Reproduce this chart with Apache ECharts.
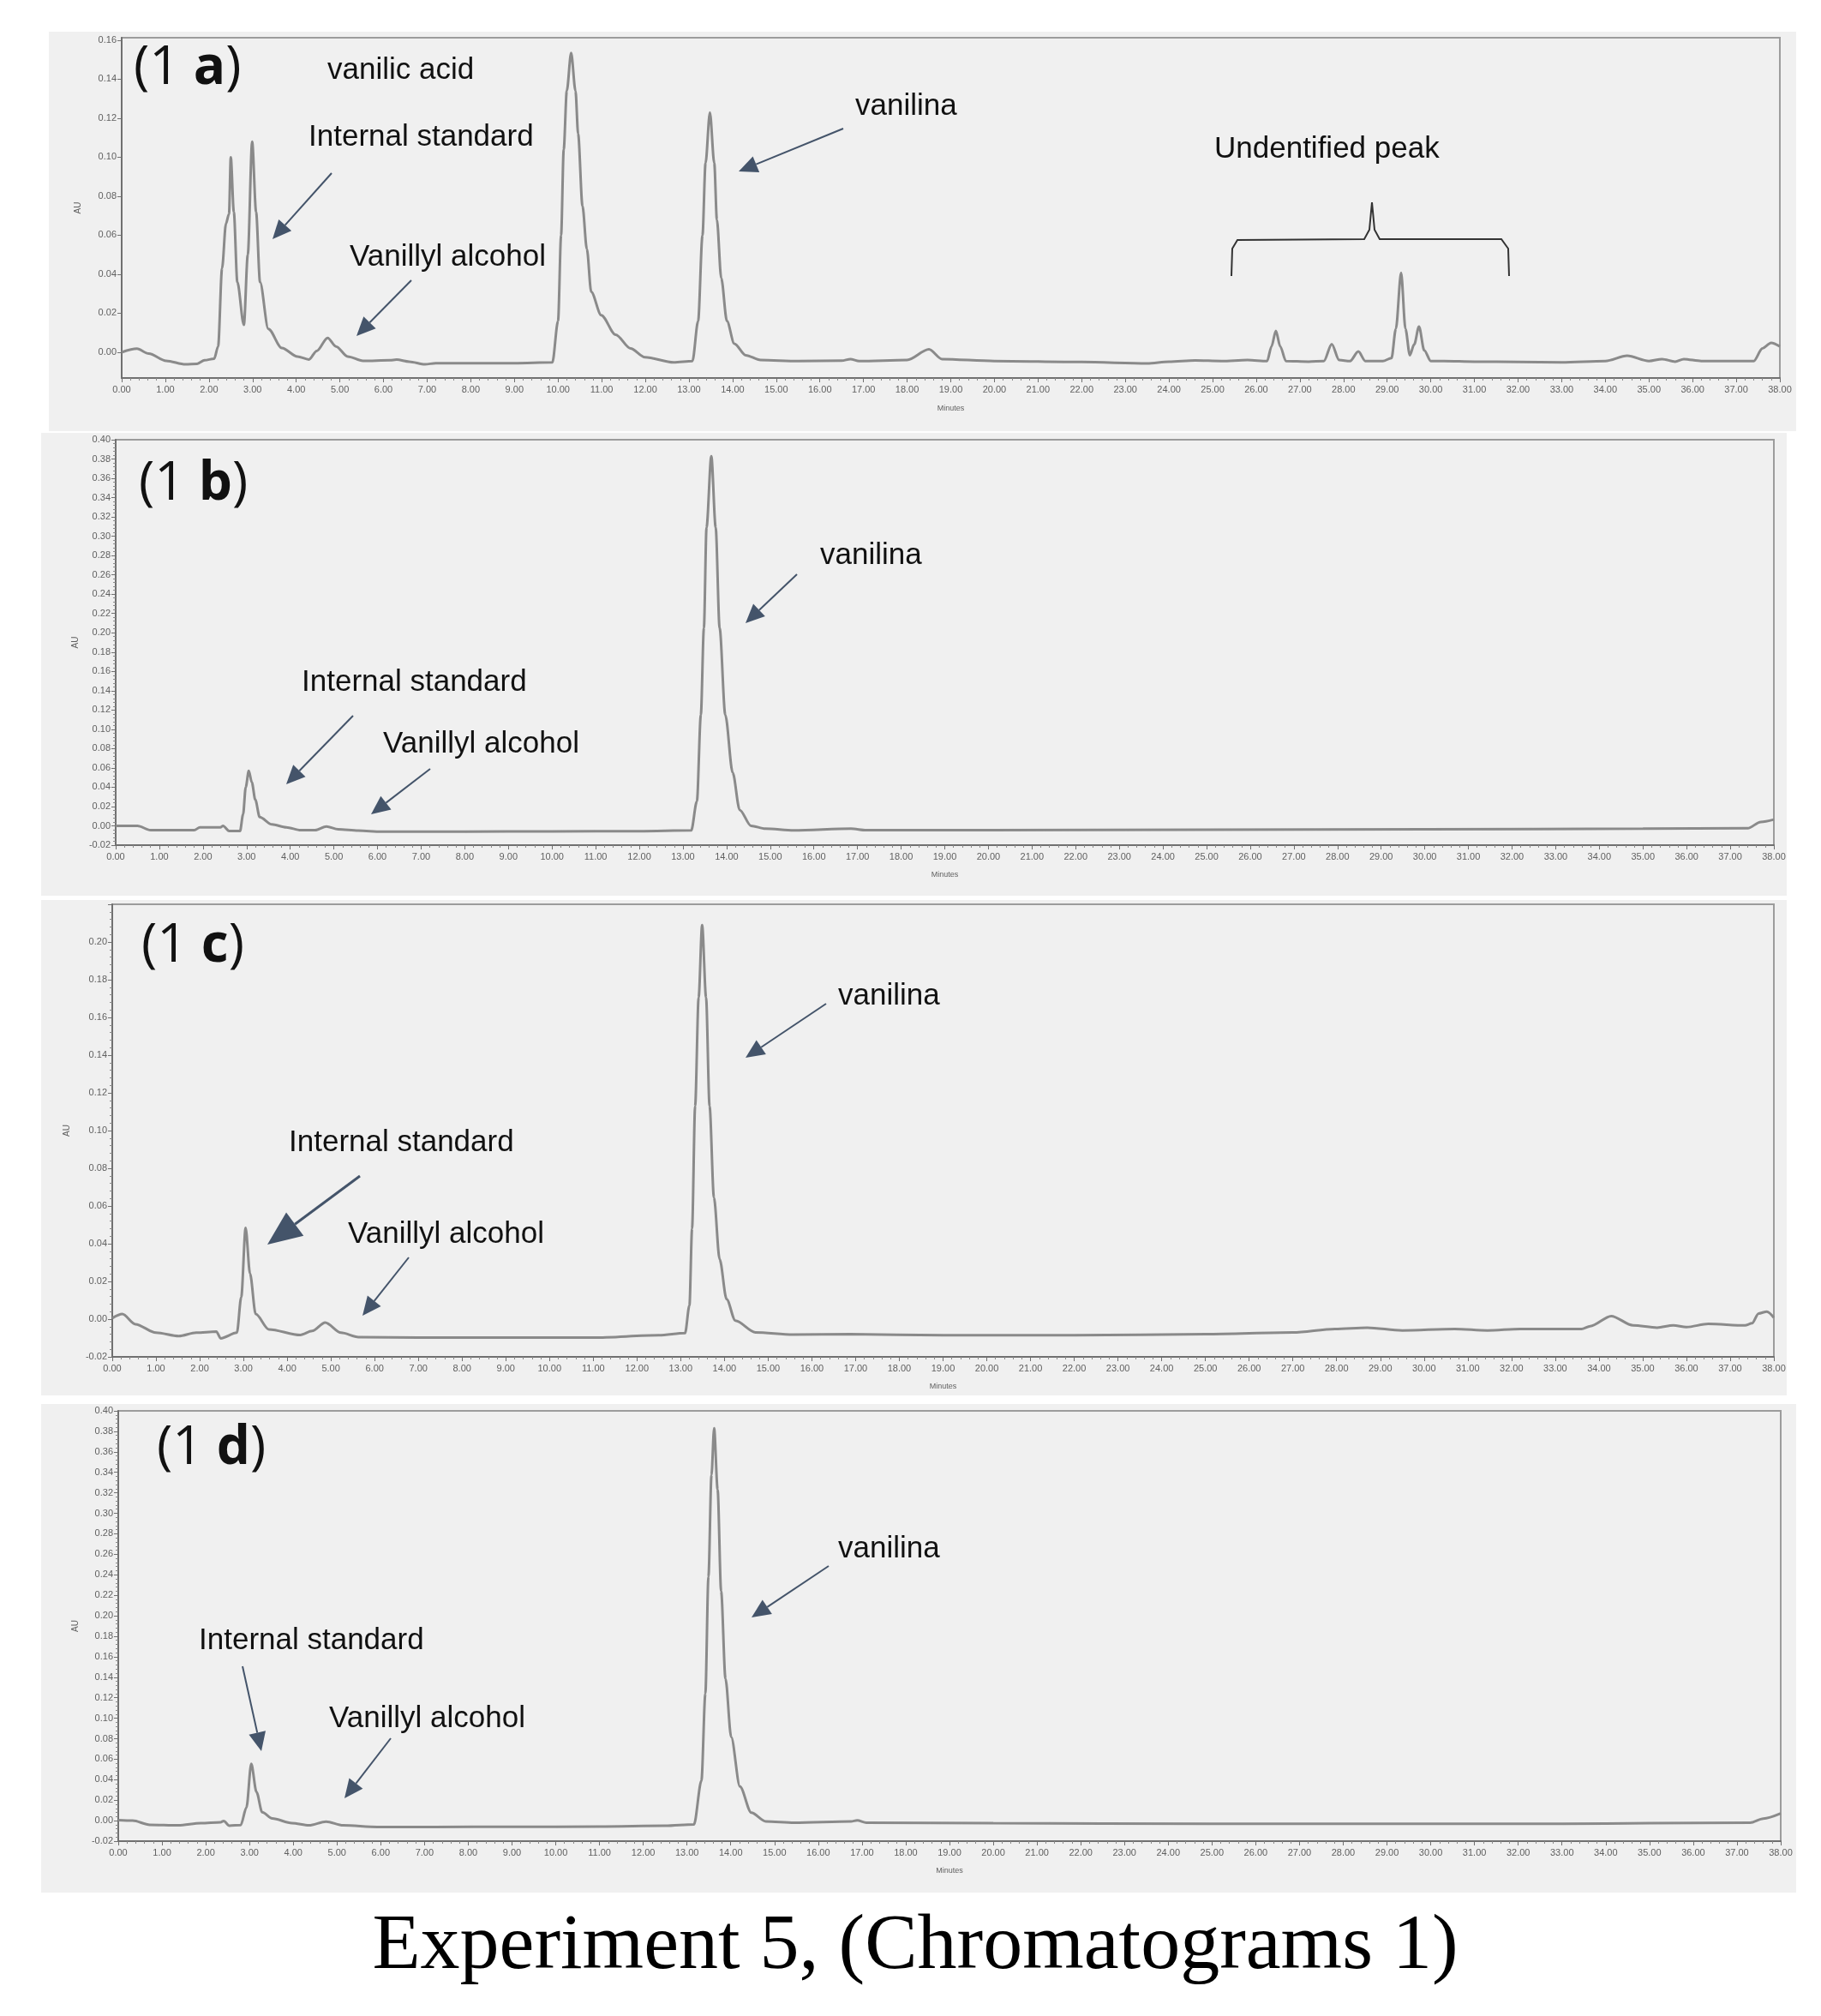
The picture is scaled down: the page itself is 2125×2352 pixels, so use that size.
<!DOCTYPE html>
<html>
<head>
<meta charset="utf-8">
<script src="https://cdn.jsdelivr.net/npm/echarts@6/dist/echarts.min.js"></script>
<style>
  html, body { margin: 0; padding: 0; background: #fff; }
  #chart { width: 2125px; height: 2352px; }
</style>
</head>
<body>
<div id="chart"></div>
<script>
// retention time (min) and absorbance (AU)
var timeA = [0, 0.35, 0.62, 1.02, 1.46, 1.73, 1.9, 2.12, 2.21, 2.3, 2.39, 2.46, 2.5, 2.57, 2.65, 2.8, 2.89, 2.99, 3.08, 3.17, 3.36, 3.67, 4.03, 4.29, 4.47, 4.72, 4.91, 5.18, 5.53, 6.15, 6.3, 6.59, 6.95, 7.2, 7.92, 9.0, 9.87, 10.0, 10.07, 10.13, 10.2, 10.3, 10.4, 10.46, 10.56, 10.66, 10.76, 10.99, 11.32, 11.66, 11.99, 12.65, 13.08, 13.21, 13.31, 13.38, 13.48, 13.58, 13.64, 13.74, 13.87, 14.04, 14.3, 14.64, 15.5, 16.5, 16.7, 16.9, 18.0, 18.5, 18.8, 20.0, 22.0, 23.5, 24.0, 24.6, 25.2, 25.8, 26.25, 26.35, 26.45, 26.55, 26.68, 27.2, 27.55, 27.73, 27.9, 28.15, 28.34, 28.5, 28.9, 29.1, 29.2, 29.32, 29.42, 29.52, 29.62, 29.73, 29.85, 30.0, 30.3, 31.0, 32.0, 33.0, 34.0, 34.5, 35.0, 35.3, 35.6, 35.8, 36.2, 37.0, 37.4, 37.6, 37.8, 38.0];
var auA = [0, 0.0018, -0.0007, -0.0044, -0.0062, -0.0059, -0.0041, -0.0033, 0.003, 0.043, 0.066, 0.071, 0.1, 0.072, 0.036, 0.014, 0.05, 0.108, 0.072, 0.036, 0.012, 0.0022, -0.0022, -0.0037, 0.0007, 0.0074, 0.003, -0.0022, -0.0044, -0.0041, -0.0038, -0.0048, -0.0062, -0.0056, -0.0056, -0.0056, -0.0052, 0.016, 0.06, 0.104, 0.134, 0.1535, 0.134, 0.112, 0.075, 0.053, 0.031, 0.019, 0.009, 0.002, -0.0025, -0.0052, -0.0045, 0.016, 0.06, 0.097, 0.123, 0.097, 0.068, 0.038, 0.016, 0.0044, -0.0015, -0.004, -0.0045, -0.0043, -0.0035, -0.0045, -0.004, 0.0015, -0.0035, -0.0045, -0.005, -0.0057, -0.0048, -0.0042, -0.0045, -0.004, -0.0045, 0.003, 0.011, 0.003, -0.0045, -0.0048, -0.0045, 0.0042, -0.004, -0.0045, 0.0004, -0.0045, -0.0045, -0.003, 0.012, 0.0407, 0.012, -0.0015, 0.004, 0.0132, 0.001, -0.0045, -0.0045, -0.0048, -0.005, -0.0052, -0.0045, -0.0018, -0.0045, -0.0035, -0.0048, -0.0035, -0.0045, -0.0045, -0.0045, 0.002, 0.0048, 0.003];

var timeB = [0, 0.5, 0.8, 1.8, 1.93, 2.4, 2.46, 2.6, 2.85, 2.92, 2.98, 3.05, 3.12, 3.2, 3.3, 3.58, 3.91, 4.24, 4.57, 4.83, 5.1, 5.56, 6.09, 8.0, 10.0, 12.0, 13.19, 13.32, 13.41, 13.48, 13.54, 13.65, 13.75, 13.84, 13.97, 14.14, 14.3, 14.56, 14.89, 15.54, 16.85, 17.2, 20.0, 25.0, 30.0, 35.0, 37.4, 37.7, 38.0];
var auB = [0, 0, -0.0045, -0.0045, -0.0015, -0.0015, 0, -0.0054, -0.0054, 0.012, 0.04, 0.057, 0.045, 0.027, 0.009, 0.0015, -0.0015, -0.0045, -0.0045, -0.0006, -0.0036, -0.005, -0.006, -0.006, -0.0058, -0.0055, -0.0047, 0.0255, 0.115, 0.205, 0.309, 0.383, 0.309, 0.205, 0.115, 0.055, 0.0165, 0.0, -0.003, -0.0047, -0.003, -0.0045, -0.0045, -0.004, -0.0035, -0.003, -0.0025, 0.004, 0.0065];

var timeC = [0, 0.23, 0.53, 1.0, 1.52, 1.92, 2.38, 2.48, 2.85, 2.95, 3.05, 3.15, 3.28, 3.58, 4.3, 4.57, 4.87, 5.23, 5.63, 7.0, 9.0, 11.0, 12.5, 13.1, 13.2, 13.26, 13.33, 13.41, 13.49, 13.58, 13.66, 13.76, 13.89, 14.05, 14.25, 14.71, 15.57, 16.88, 19.0, 22.0, 25.0, 27.0, 27.96, 28.7, 29.5, 30.7, 31.45, 32.2, 33.6, 33.8, 34.28, 34.78, 35.33, 35.7, 36.0, 36.5, 37.34, 37.5, 37.65, 37.84, 38.0];
var auC = [0.0005, 0.0027, -0.0027, -0.0072, -0.009, -0.0072, -0.0066, -0.0102, -0.0072, 0.0117, 0.0484, 0.0242, 0.0027, -0.0054, -0.0084, -0.0063, -0.0018, -0.0072, -0.0095, -0.0098, -0.0098, -0.0098, -0.0085, -0.0074, 0.0073, 0.048, 0.113, 0.1706, 0.209, 0.1706, 0.113, 0.0645, 0.0318, 0.0106, -0.0008, -0.007, -0.0082, -0.008, -0.0085, -0.0085, -0.008, -0.0071, -0.0052, -0.0045, -0.006, -0.0052, -0.006, -0.0052, -0.0052, -0.0037, 0.0016, -0.0033, -0.0045, -0.0033, -0.0042, -0.0025, -0.0033, -0.0022, 0.003, 0.004, 0.0008];

var timeD = [0, 0.33, 0.72, 1.37, 1.89, 2.34, 2.41, 2.54, 2.8, 2.93, 3.04, 3.16, 3.29, 3.52, 3.97, 4.36, 4.75, 5.14, 5.92, 7.23, 9.0, 11.0, 12.5, 13.16, 13.33, 13.42, 13.49, 13.56, 13.62, 13.7, 13.78, 13.88, 14.01, 14.21, 14.47, 14.8, 15.45, 16.75, 16.89, 17.1, 20.0, 25.0, 30.0, 33.0, 35.0, 37.3, 37.6, 38.0];
var auD = [0.0006, 0, -0.004, -0.0046, -0.0024, -0.0015, -0.0003, -0.0049, -0.0043, 0.0128, 0.0555, 0.028, 0.0082, 0.0021, -0.0024, -0.0046, -0.0009, -0.0046, -0.0061, -0.0061, -0.006, -0.0058, -0.005, -0.0036, 0.039, 0.124, 0.238, 0.3375, 0.383, 0.3233, 0.224, 0.1385, 0.0817, 0.0334, 0.0078, -0.0007, -0.002, -0.0007, 0.0003, -0.002, -0.0025, -0.003, -0.003, -0.003, -0.0025, -0.002, 0.002, 0.007];

// axis ranges and tick labels
var yRangeA = [-0.0132, 0.1613];
var yTicksA = [0, 0.02, 0.04, 0.06, 0.08, 0.10, 0.12, 0.14, 0.16];
var yRangeB = [-0.02, 0.40];
var yRangeC = [-0.02, 0.22];
var yRangeD = [-0.02, 0.40];
var panelNames = ['a', 'b', 'c', 'd'];

var chart = echarts.init(document.getElementById('chart'), null, { renderer: 'canvas' });

var grids = [
  { left: 142, top: 44, width: 1935, height: 397 },
  { left: 135, top: 513, width: 1935, height: 473 },
  { left: 131, top: 1055, width: 1939, height: 528 },
  { left: 138, top: 1646, width: 1940, height: 502 }
];

function pairs(t, v) {
  return t.map(function(x, i) { return [x, v[i]]; });
}

var axisColor = '#707070';
var labelColor = '#606060';

function makeX(i, nameGap) {
  return {
    gridIndex: i, type: 'value', min: 0, max: 38, interval: 1,
    axisLine: { show: true, onZero: false, lineStyle: { color: axisColor, width: 2 } },
    axisTick: { show: true, length: 5, lineStyle: { color: axisColor } },
    minorTick: { show: true, splitNumber: 5, length: 3, lineStyle: { color: '#8a8a8a' } },
    splitLine: { show: false },
    axisLabel: { fontSize: 11, color: labelColor, margin: 8, formatter: function(v) { return v.toFixed(2); } },
    name: 'Minutes', nameLocation: 'middle', nameGap: nameGap,
    nameTextStyle: { fontSize: 9, color: labelColor }
  };
}

function makeY(i, range, nameGap, opts) {
  var y = {
    gridIndex: i, type: 'value', min: range[0], max: range[1],
    axisLine: { show: true, onZero: false, lineStyle: { color: axisColor, width: 2 } },
    axisTick: { show: true, length: 5, lineStyle: { color: axisColor } },
    minorTick: { show: true, splitNumber: 5, length: 3, lineStyle: { color: '#8a8a8a' } },
    splitLine: { show: false },
    axisLabel: { fontSize: 11, color: labelColor, margin: 6, formatter: function(v) { return v.toFixed(2); } },
    name: 'AU', nameLocation: 'middle', nameGap: nameGap, nameRotate: 90,
    nameTextStyle: { fontSize: 10, color: labelColor }
  };
  return Object.assign(y, opts || {});
}

var yA = makeY(0, yRangeA, 46, {});
yA.axisLabel.customValues = yTicksA;
yA.axisTick.customValues = yTicksA;
yA.minorTick = { show: false };

var yB = makeY(1, yRangeB, 42, { interval: 0.02 });
var yC = makeY(2, yRangeC, 48, { interval: 0.02 });
yC.axisLabel.showMaxLabel = false;
var yD = makeY(3, yRangeD, 45, { interval: 0.02 });

var traces = [pairs(timeA, auA), pairs(timeB, auB), pairs(timeC, auC), pairs(timeD, auD)];

var series = traces.map(function(d, i) {
  return {
    type: 'line', xAxisIndex: i, yAxisIndex: i, data: d,
    showSymbol: false, smooth: 0.3, smoothMonotone: 'x', clip: true,
    lineStyle: { color: '#8a8a8a', width: 3 }, silent: true
  };
});

// annotation helpers
var arrowColor = '#44546a';
function arrow(x1, y1, x2, y2, len, half, w) {
  len = len || 22; half = half || 10; w = w || 2;
  var dx = x2 - x1, dy = y2 - y1, L = Math.sqrt(dx * dx + dy * dy);
  var ux = dx / L, uy = dy / L;
  var bx = x2 - ux * len, by = y2 - uy * len;
  return [
    { type: 'line', z: 10, shape: { x1: x1, y1: y1, x2: bx, y2: by }, style: { stroke: arrowColor, lineWidth: w } },
    { type: 'polygon', z: 10, shape: { points: [[x2, y2], [bx - uy * half, by + ux * half], [bx + uy * half, by - ux * half]] }, style: { fill: arrowColor } }
  ];
}
function label(text, x, y) {
  return { type: 'text', z: 10, style: { text: text, x: x, y: y, verticalAlign: 'middle', fontFamily: 'Liberation Sans, Arial, sans-serif', fontSize: 35, fill: '#111' } };
}
function panelTag(letter, x, y) {
  return {
    type: 'text', z: 10,
    style: {
      text: '{n|(1 }{b|' + letter + '}{n|)}', x: x, y: y, verticalAlign: 'middle',
      rich: {
        n: { fontFamily: 'Open Sans', fontSize: 62, fill: '#111', fontWeight: 'normal' },
        b: { fontFamily: 'Open Sans', fontSize: 62, fill: '#111', fontWeight: 'bold' }
      }
    }
  };
}

var graphics = [
  { type: 'rect', z: -10, shape: { x: 57, y: 37, width: 2039, height: 466 }, style: { fill: '#f0f0f0' } },
  { type: 'rect', z: -10, shape: { x: 48, y: 505, width: 2037, height: 540 }, style: { fill: '#f0f0f0' } },
  { type: 'rect', z: -10, shape: { x: 48, y: 1050, width: 2037, height: 578 }, style: { fill: '#f0f0f0' } },
  { type: 'rect', z: -10, shape: { x: 48, y: 1638, width: 2048, height: 570 }, style: { fill: '#f0f0f0' } },

  panelTag(panelNames[0], 156, 80),
  label('vanilic acid', 382, 82),
  label('Internal standard', 360, 160),
  label('Vanillyl alcohol', 408, 300),
  label('vanilina', 998, 124),
  label('Undentified peak', 1417, 174),
  { type: 'polyline', z: 10, shape: { points: [[1437, 322], [1438, 290], [1444, 280], [1592, 279], [1598, 268], [1601, 236], [1604, 268], [1610, 279], [1752, 279], [1760, 290], [1761, 322]] }, style: { stroke: '#333', lineWidth: 2, fill: null } },

  panelTag(panelNames[1], 162, 565),
  label('vanilina', 957, 648),
  label('Internal standard', 352, 796),
  label('Vanillyl alcohol', 447, 868),

  panelTag(panelNames[2], 165, 1104),
  label('vanilina', 978, 1162),
  label('Internal standard', 337, 1333),
  label('Vanillyl alcohol', 406, 1440),

  panelTag(panelNames[3], 183, 1690),
  label('vanilina', 978, 1807),
  label('Internal standard', 232, 1914),
  label('Vanillyl alcohol', 384, 2005),

  { type: 'text', z: 10, style: { text: 'Experiment 5, (Chromatograms 1)', x: 1068, y: 2272, align: 'center', verticalAlign: 'middle', fontFamily: 'Liberation Serif, Times New Roman, serif', fontSize: 92, fill: '#000' } }
];

graphics = graphics
  .concat(arrow(387, 202, 318, 279))
  .concat(arrow(480, 327, 416, 392))
  .concat(arrow(984, 150, 862, 200))
  .concat(arrow(930, 670, 870, 727))
  .concat(arrow(412, 835, 334, 915))
  .concat(arrow(502, 897, 433, 950))
  .concat(arrow(964, 1171, 870, 1234))
  .concat(arrow(420, 1372, 312, 1452, 40, 17, 3))
  .concat(arrow(477, 1467, 423, 1535))
  .concat(arrow(967, 1827, 877, 1887))
  .concat(arrow(283, 1944, 305, 2043))
  .concat(arrow(456, 2028, 402, 2098));

var option = {
  backgroundColor: '#ffffff',
  animation: false,
  grid: grids.map(function(g) {
    return Object.assign({ show: true, borderColor: '#9c9c9c', borderWidth: 2, backgroundColor: 'transparent' }, g);
  }),
  xAxis: [makeX(0, 31), makeX(1, 30), makeX(2, 30), makeX(3, 30)],
  yAxis: [yA, yB, yC, yD],
  series: series,
  graphic: graphics
};

chart.setOption(option);
window.onresize = chart.resize;
</script>
</body>
</html>
